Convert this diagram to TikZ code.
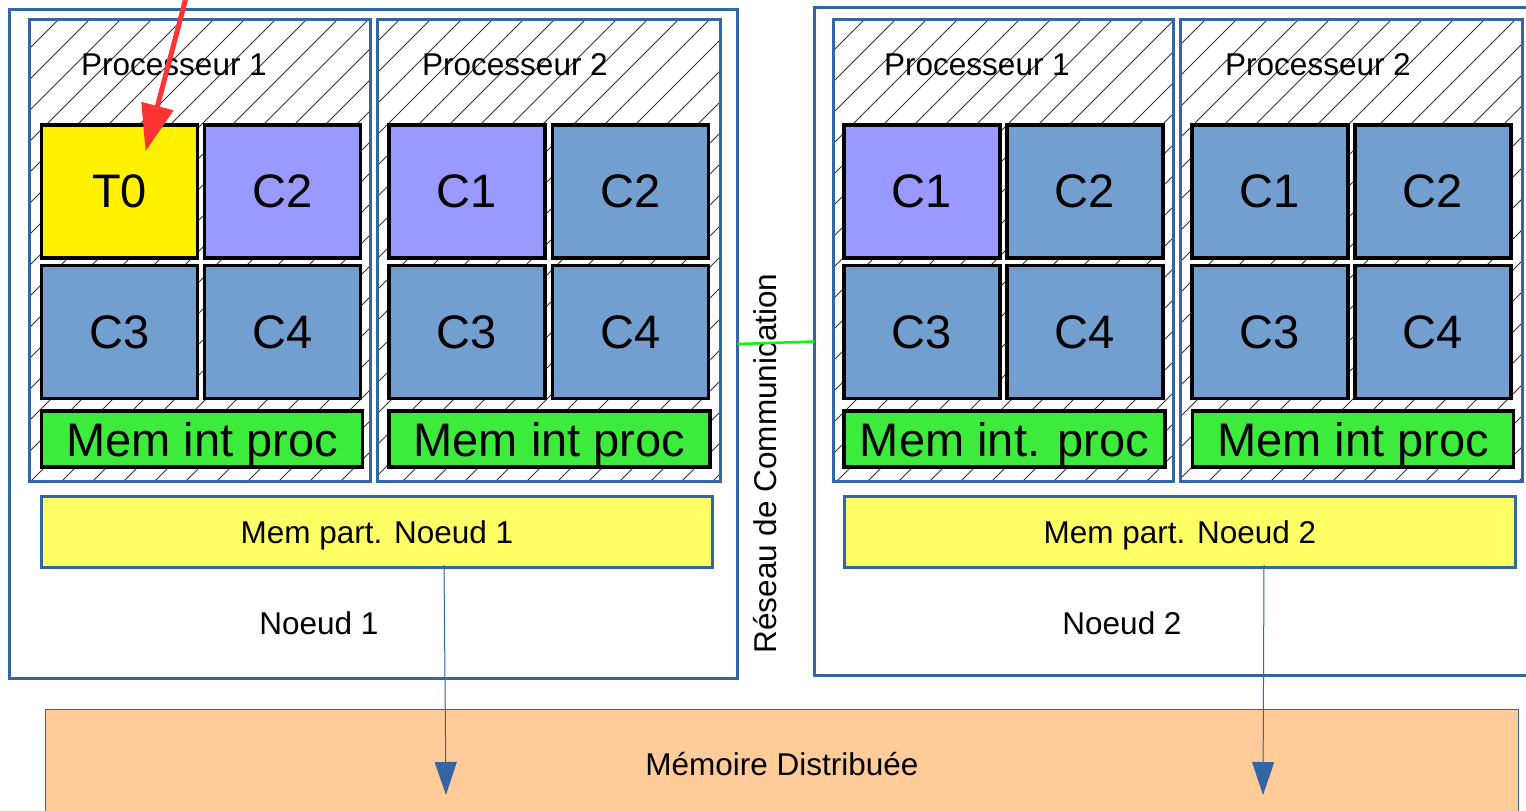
\documentclass[tikz,border=0pt]{standalone}
\usepackage{fontspec}
\setmainfont{Liberation Sans}
\usetikzlibrary{arrows.meta, positioning, backgrounds}

\definecolor{lienBleu}{HTML}{3465A4}
\definecolor{coeurBleu}{HTML}{729FCF}
\definecolor{coeurMauve}{HTML}{9999FF}
\definecolor{memVert}{HTML}{3DEB3D}
\definecolor{partJaune}{HTML}{FFFF66}
\definecolor{distOrange}{HTML}{FFCC99}
\definecolor{flecheRouge}{HTML}{FF3333}

\begin{document}
\begin{tikzpicture}[x=1pt, y=-1pt,
        noeud/.style={draw=lienBleu, line width=3pt, outer sep=0pt, inner sep=0pt},
        proc/.style={draw=lienBleu, line width=2.6pt, outer sep=0pt, inner sep=0pt, minimum height=462.5pt},
        coeur/.style={draw=black, line width=3.5pt, minimum width=156pt, minimum height=133pt, inner sep=0pt, font=\fontsize{47}{56}\selectfont},
        memint/.style={draw=black, line width=3.5pt, fill=memVert, minimum width=321pt, minimum height=56pt, inner sep=0pt, text depth=0pt, font=\fontsize{47}{56}\selectfont},
        mempart/.style={draw=lienBleu, line width=3pt, fill=partJaune, minimum width=671pt, minimum height=71pt, text depth=0pt, font=\fontsize{31.5}{38}\selectfont},
        etiq/.style={inner sep=0pt, font=\fontsize{31.5}{38}\selectfont},
        hachure/.style={line width=0.9pt, black!80},
        lien/.style={-{Triangle[length=33pt, width=22pt]}, draw=lienBleu, fill=lienBleu, line width=1pt},
        rouge/.style={-{Triangle[length=47pt, width=32pt]}, draw=flecheRouge, fill=flecheRouge, line width=5pt}]
    \clip (0,0) rectangle (1526,811);

    % les deux noeuds
    \node[noeud, minimum width=728pt, minimum height=669pt] (nd1) at (373.5,344) {};
    \node[noeud, minimum width=726pt, minimum height=668pt] (nd2) at (1177.5,341.5) {};

    % processeurs (zones hachurees)
    \node[proc, minimum width=341.5pt] (p11) at (200,250.5) {};
    \node[proc, minimum width=343.5pt] (p12) at (549,250.5) {};
    \node[proc, minimum width=340.5pt] (p21) at (1003.5,250.5) {};
    \node[proc, minimum width=342.5pt] (p22) at (1351.5,250.5) {};
    \begin{scope}[on background layer]
        \clip (p11.south west) rectangle (p11.north east)
              (p12.south west) rectangle (p12.north east)
              (p21.south west) rectangle (p21.north east)
              (p22.south west) rectangle (p22.north east);
        \foreach \k in {0,...,65}
            \draw[hachure] ({16+31*\k},0) -- ({16+31*\k-520},520);
    \end{scope}

    \node[etiq] (tp11) at (174,65) {Processeur 1};
    \node[etiq] (tp12) at (515,65) {Processeur 2};
    \node[etiq] (tp21) at (977,65) {Processeur 1};
    \node[etiq] (tp22) at (1318,65) {Processeur 2};

    % coeurs du noeud 1
    \node[coeur, fill=yellow] (t0) at (119.5,191.5) {T0};
    \node[coeur, fill=coeurMauve] (a12) at (282.5,191.5) {C2};
    \node[coeur, fill=coeurBleu] (a13) at (119.5,332) {C3};
    \node[coeur, fill=coeurBleu] (a14) at (282.5,332) {C4};
    \node[coeur, fill=coeurMauve] (b11) at (467,191.5) {C1};
    \node[coeur, fill=coeurBleu] (b12) at (630.5,191.5) {C2};
    \node[coeur, fill=coeurBleu] (b13) at (467,332) {C3};
    \node[coeur, fill=coeurBleu] (b14) at (630.5,332) {C4};
    % coeurs du noeud 2
    \node[coeur, fill=coeurMauve] (c11) at (922,191.5) {C1};
    \node[coeur, fill=coeurBleu] (c12) at (1085,191.5) {C2};
    \node[coeur, fill=coeurBleu] (c13) at (922,332) {C3};
    \node[coeur, fill=coeurBleu] (c14) at (1085,332) {C4};
    \node[coeur, fill=coeurBleu] (d11) at (1270,191.5) {C1};
    \node[coeur, fill=coeurBleu] (d12) at (1433,191.5) {C2};
    \node[coeur, fill=coeurBleu] (d13) at (1270,332) {C3};
    \node[coeur, fill=coeurBleu] (d14) at (1433,332) {C4};

    % memoires internes
    \node[memint] (mi11) at (202,439) {Mem int proc};
    \node[memint] (mi12) at (549.5,439) {Mem int proc};
    \node[memint] (mi21) at (1004.5,439) {Mem int. proc};
    \node[memint] (mi22) at (1353,439) {Mem int proc};

    % memoires partagees
    \node[mempart] (mp1) at (377,532) {Mem part. Noeud 1};
    \node[mempart] (mp2) at (1180,532) {Mem part. Noeud 2};

    \node[etiq] (lb1) at (319,623) {Noeud 1};
    \node[etiq] (lb2) at (1122,623) {Noeud 2};

    % memoire distribuee
    \node[draw=lienBleu, line width=1pt, fill=distOrange, minimum width=1473pt, minimum height=110pt,
          font=\fontsize{31.5}{38}\selectfont] (dist) at (782,764) {Mémoire Distribuée};
    \coordinate (d1) at (446,795);
    \coordinate (d2) at (1263,795);
    \draw[lien] ([xshift=67pt, yshift=4pt]mp1.south) -- (d1);
    \draw[lien] ([xshift=84pt, yshift=4pt]mp2.south) -- (d2);

    % reseau
    \node[etiq, rotate=90] (reseau) at (765,463.5) {Réseau de Communication};
    \draw[green, line width=2.5pt] (nd1.east) -- (nd2.west);

    % tache T0
    \coordinate (src) at (188,-10);
    \draw[rouge] (src) -- ([xshift=26pt, yshift=40pt]t0.center);
\end{tikzpicture}
\end{document}
